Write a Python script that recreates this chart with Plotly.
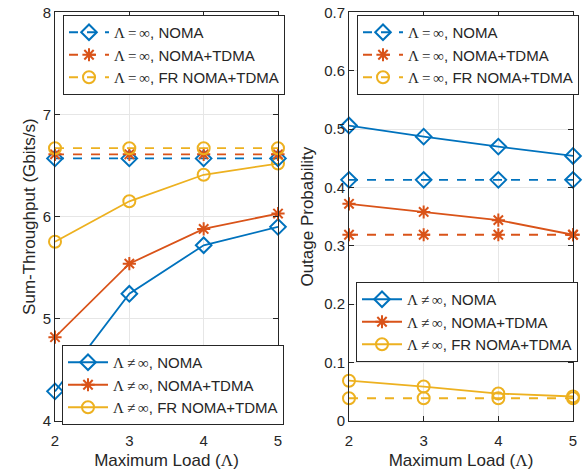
import plotly.graph_objects as go

# Maximum load values on the x axis
loads = [2, 3, 4, 5]

# Sum-throughput (Gbits/s), finite load
thr_noma = [4.29, 5.245, 5.72, 5.90]
thr_noma_tdma = [4.82, 5.54, 5.88, 6.03]
thr_fr = [5.755, 6.15, 6.41, 6.52]
# Sum-throughput (Gbits/s), infinite load
thr_noma_inf = [6.57, 6.57, 6.57, 6.57]
thr_noma_tdma_inf = [6.61, 6.61, 6.61, 6.61]
thr_fr_inf = [6.67, 6.67, 6.67, 6.67]

# Outage probability, finite load
out_noma = [0.506, 0.487, 0.470, 0.454]
out_noma_tdma = [0.372, 0.358, 0.344, 0.319]
out_fr = [0.069, 0.059, 0.047, 0.042]
# Outage probability, infinite load
out_noma_inf = [0.413, 0.413, 0.413, 0.413]
out_noma_tdma_inf = [0.319, 0.319, 0.319, 0.319]
out_fr_inf = [0.039, 0.039, 0.039, 0.039]

BLUE = "#0072BD"
ORANGE = "#D95319"
YELLOW = "#EDB120"
FONT = "Liberation Sans, Arial, sans-serif"
SERIF = "Liberation Serif"
TS = "\u2009"  # thin space around relation signs
LAM = f'<span style="font-family:{SERIF}">Λ</span>'
LAM_INF = f'<span style="font-family:{SERIF}">Λ{TS}={TS}∞</span>'
LAM_NINF = f'<span style="font-family:{SERIF}">Λ{TS}≠{TS}∞</span>'

names = ["NOMA", "NOMA+TDMA", "FR NOMA+TDMA"]
colors = [BLUE, ORANGE, YELLOW]
symbols = ["diamond-open", "asterisk-open", "circle-open"]
sizes = [12, 11, 12]

fig = go.Figure()

panels = [
    ("x", "y", [thr_noma_inf, thr_noma_tdma_inf, thr_fr_inf],
     [thr_noma, thr_noma_tdma, thr_fr], "legend", "legend2"),
    ("x2", "y2", [out_noma_inf, out_noma_tdma_inf, out_fr_inf],
     [out_noma, out_noma_tdma, out_fr], "legend3", "legend4"),
]

for xa, ya, inf_series, fin_series, leg_inf, leg_fin in panels:
    for i in range(3):
        fig.add_trace(go.Scatter(
            x=loads, y=fin_series[i], xaxis=xa, yaxis=ya,
            mode="lines+markers", cliponaxis=False,
            name=f"{LAM_NINF}, {names[i]}",
            line=dict(color=colors[i], width=1.8),
            marker=dict(symbol=symbols[i], size=sizes[i],
                        line=dict(color=colors[i], width=2)),
            legend=leg_fin,
        ))
    for i in range(3):
        fig.add_trace(go.Scatter(
            x=loads, y=inf_series[i], xaxis=xa, yaxis=ya,
            mode="lines+markers", cliponaxis=False,
            name=f"{LAM_INF}, {names[i]}",
            line=dict(color=colors[i], width=1.8, dash="dash"),
            marker=dict(symbol=symbols[i], size=sizes[i],
                        line=dict(color=colors[i], width=2)),
            legend=leg_inf,
        ))

W, H = 587, 476
axis_common = dict(
    showline=True, linecolor="#262626", linewidth=1, mirror="ticks",
    ticks="inside", ticklen=5, tickcolor="#262626",
    showgrid=True, gridcolor="#e6e6e6", gridwidth=1,
    zeroline=False, automargin=False,
    tickfont=dict(family=FONT, size=15, color="#262626"),
)
title_font = dict(family=FONT, size=17, color="#262626")

y_dom = [1 - 421 / H, 1 - 12.3 / H]

fig.update_layout(
    width=W, height=H,
    margin=dict(l=0, r=0, t=0, b=0, autoexpand=False),
    paper_bgcolor="white", plot_bgcolor="white",
    font=dict(family=FONT, color="#262626"),
    xaxis=dict(domain=[55 / W, 278 / W], range=[2, 5], tickvals=loads,
               anchor="y", ticklabelstandoff=6,
               title=dict(text=f"Maximum Load ({LAM})", font=title_font, standoff=6),
               **axis_common),
    yaxis=dict(domain=y_dom, range=[4, 8], tickvals=[4, 5, 6, 7, 8],
               anchor="x",
               title=dict(text="Sum-Throughput (Gbits/s)", font=title_font, standoff=2),
               **axis_common),
    xaxis2=dict(domain=[349 / W, 573 / W], range=[2, 5], tickvals=loads,
                anchor="y2", ticklabelstandoff=6,
                title=dict(text=f"Maximum Load ({LAM})", font=title_font, standoff=6),
                **axis_common),
    yaxis2=dict(domain=y_dom, range=[0, 0.7],
                tickvals=[0, 0.1, 0.2, 0.3, 0.4, 0.5, 0.6, 0.7],
                ticktext=["0", "0.1", "0.2", "0.3", "0.4", "0.5", "0.6", "0.7"],
                anchor="x2",
                title=dict(text="Outage Probability", font=title_font, standoff=6),
                **axis_common),
    showlegend=True,
)

legend_common = dict(
    bgcolor="white", bordercolor="#262626", borderwidth=1,
    font=dict(family=FONT, size=15, color="#262626"),
    xanchor="left", yanchor="top", traceorder="normal",
    itemwidth=40, tracegroupgap=0,
)
fig.update_layout(
    legend=dict(x=63 / W, y=1 - 15 / H, **legend_common),
    legend2=dict(x=62 / W, y=1 - 345 / H, **legend_common),
    legend3=dict(x=357 / W, y=1 - 15 / H, **legend_common),
    legend4=dict(x=356 / W, y=1 - 282 / H, **legend_common),
)

fig.write_html("out.html")
